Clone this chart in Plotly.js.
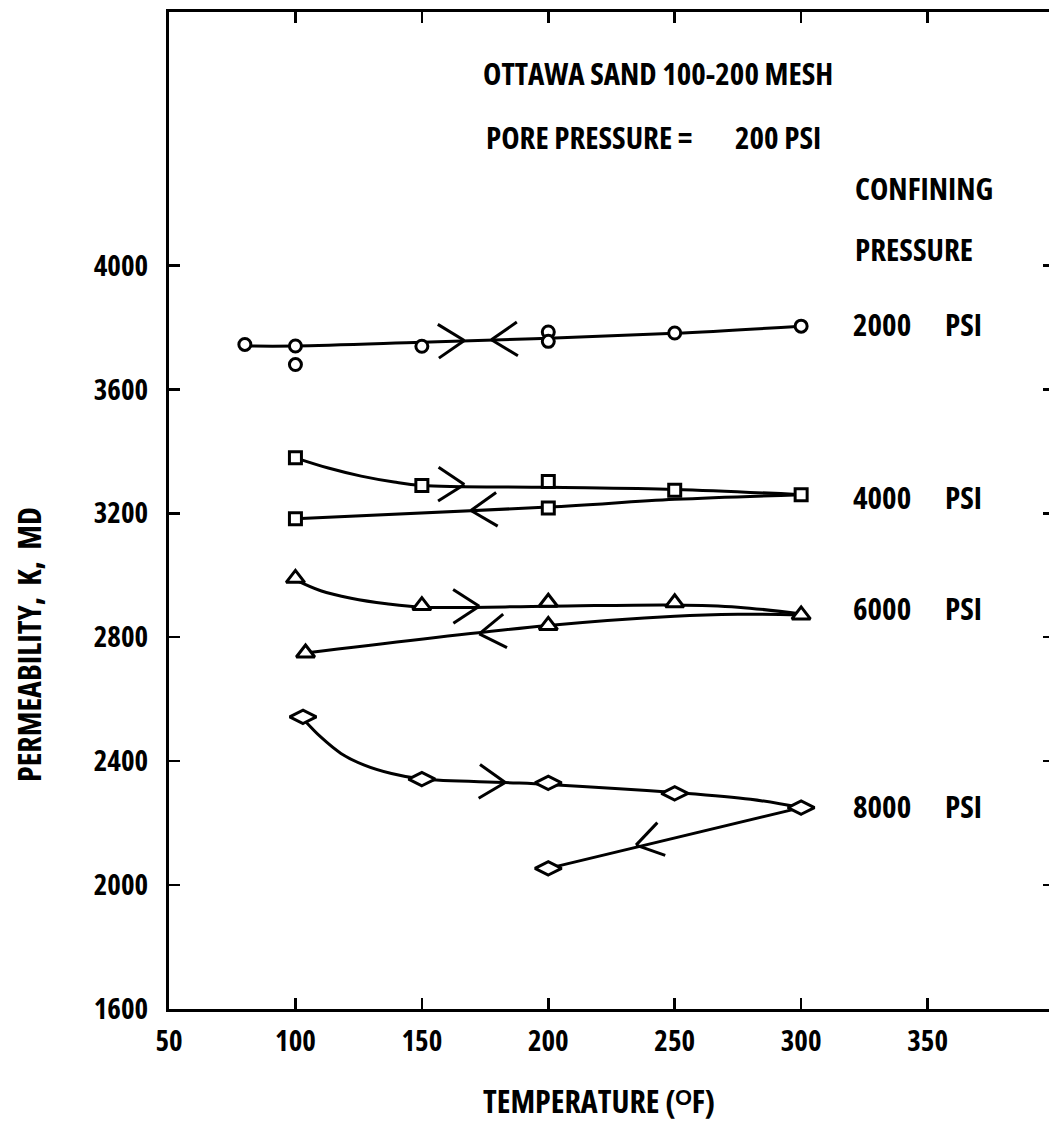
<!DOCTYPE html>
<html><head><meta charset="utf-8">
<script src="https://cdn.plot.ly/plotly-3.0.1.min.js"></script>
<style>
html,body{margin:0;padding:0;background:#fff;overflow:hidden}
svg text{font-stretch:condensed !important;}
</style>
</head><body><div id="chart"></div>
<script>
// ---------------- data ----------------
// 2000 PSI confining pressure (circles)
const p2000_x = [80, 100, 100, 150, 200, 200, 250, 300];
const p2000_y = [3745, 3740, 3680, 3739, 3785, 3755, 3782, 3804];
const p2000_line_x = [80, 100, 150, 200, 250, 300];
const p2000_line_y = [3740, 3740, 3752, 3765, 3781, 3804];

// 4000 PSI (squares)
const p4000_heat_x = [100, 150, 200, 250, 300];
const p4000_heat_y = [3379, 3290, 3303, 3274, 3260];
const p4000_cool_x = [200, 100];
const p4000_cool_y = [3217, 3182];
const p4000_heat_line_x = [100, 113, 126, 139, 150, 200, 250, 300];
const p4000_heat_line_y = [3379, 3346, 3320, 3301, 3290, 3284, 3277, 3260];
const p4000_cool_line_x = [300, 250, 200, 100];
const p4000_cool_line_y = [3260, 3245, 3220, 3182];

// 6000 PSI (triangles)
const p6000_heat_x = [100, 150, 200, 250, 300];
const p6000_heat_y = [2990, 2902, 2913, 2911, 2872];
const p6000_cool_x = [200, 104];
const p6000_cool_y = [2838, 2749];
const p6000_heat_line_x = [100, 110, 122, 136, 150, 200, 250, 275, 300];
const p6000_heat_line_y = [2985, 2950, 2926, 2908, 2897, 2900, 2904, 2897, 2875];
const p6000_cool_line_x = [300, 275, 250, 200, 104];
const p6000_cool_line_y = [2872, 2874, 2868, 2838, 2749];

// 8000 PSI (diamonds)
const p8000_heat_x = [103, 150, 200, 250, 300];
const p8000_heat_y = [2543, 2342, 2330, 2296, 2250];
const p8000_cool_x = [200];
const p8000_cool_y = [2054];
const p8000_heat_line_x = [104, 110, 118, 127, 138, 150, 183, 200, 250, 280, 300];
const p8000_heat_line_y = [2528, 2478, 2425, 2388, 2360, 2342, 2331, 2325, 2299, 2277, 2250];
const p8000_cool_line_x = [300, 200];
const p8000_cool_line_y = [2250, 2054];

// direction arrows (vertex position, +1 = heating / right, -1 = cooling / left)
const arrow_x = [166.8, 177.5, 166.8, 169.4, 172.7, 172.7, 183, 234.7];
const arrow_y = [3758, 3760, 3293, 3209, 2900, 2811, 2331, 2129];
const arrow_dir = [1, -1, 1, -1, 1, -1, 1, -1];

// tick labels
const x_ticks = [50, 100, 150, 200, 250, 300, 350];
const y_ticks = [1600, 2000, 2400, 2800, 3200, 3600, 4000];

// text
const note_lines = ['OTTAWA SAND 100-200 MESH', 'PORE PRESSURE =', '200 PSI', 'CONFINING', 'PRESSURE'];
const series_values = ['2000', '4000', '6000', '8000'];
const series_unit = 'PSI';
const x_title = 'TEMPERATURE (\u1D3CF)';
const y_title = 'PERMEABILITY,\u00a0 K,\u00a0 MD';

// ---------------- layout constants ----------------
const W = 1060, H = 1121;
const L = 169, R = W - 169 - 885, T = 12, B = H - 1009;
const XR = [50, 400], YR = [1600, 4818];
const plotW = W - L - R, plotH = H - T - B;
const kx = plotW / (XR[1] - XR[0]);
const ky = plotH / (YR[1] - YR[0]);
const px = v => (v - L) / plotW;
const py = v => (H - B - v) / plotH;

const FONT = 'Open Sans, Roboto Condensed, sans-serif';
const BLACK = '#000';

function lineTrace(x, y) {
  return {x, y, mode: 'lines', type: 'scatter', hoverinfo: 'skip', showlegend: false,
    line: {color: BLACK, width: 3, shape: 'spline', smoothing: 1}};
}
function markTrace(x, y, symbol, size) {
  return {x, y, mode: 'markers', type: 'scatter', showlegend: false,
    marker: {symbol, size, color: '#fff', line: {color: BLACK, width: 3}}};
}

const lines = [
  [p2000_line_x, p2000_line_y],
  [p4000_heat_line_x, p4000_heat_line_y], [p4000_cool_line_x, p4000_cool_line_y],
  [p6000_heat_line_x, p6000_heat_line_y], [p6000_cool_line_x, p6000_cool_line_y],
  [p8000_heat_line_x, p8000_heat_line_y], [p8000_cool_line_x, p8000_cool_line_y]
];
const arrow_line = [0, 0, 1, 2, 3, 4, 5, 6];

const data = lines.map(l => lineTrace(l[0], l[1])).concat([
  markTrace(p2000_x, p2000_y, 'circle', 12),
  markTrace(p4000_heat_x, p4000_heat_y, 'square', 12),
  markTrace(p4000_cool_x, p4000_cool_y, 'square', 12),
  markTrace(p6000_heat_x, p6000_heat_y, 'triangle-up', 16),
  markTrace(p6000_cool_x, p6000_cool_y, 'triangle-up', 16),
  markTrace(p8000_heat_x, p8000_heat_y, 'diamond-wide', 19),
  markTrace(p8000_cool_x, p8000_cool_y, 'diamond-wide', 19)
]);

// arrows as chevrons (pixel-sized line shapes anchored at data points)
const shapes = [];
const ARM = 31, HALF = 33 * Math.PI / 180;
arrow_x.forEach((ax, i) => {
  const ay = arrow_y[i];
  const [lx, ly] = lines[arrow_line[i]];
  let slope = 0;
  for (let j = 0; j < lx.length - 1; j++) {
    const a = Math.min(lx[j], lx[j + 1]), b = Math.max(lx[j], lx[j + 1]);
    if (ax >= a && ax <= b) { slope = ((ly[j + 1] - ly[j]) * ky) / ((lx[j + 1] - lx[j]) * kx); break; }
  }
  const dir = arrow_dir[i];
  const theta = Math.atan2(dir * slope, dir);
  const back = theta + Math.PI;
  [back + HALF, back - HALF].forEach(a => {
    shapes.push({type: 'line', xref: 'x', yref: 'y', xsizemode: 'pixel', ysizemode: 'pixel',
      xanchor: ax, yanchor: ay, x0: 0, y0: 0, x1: ARM * Math.cos(a), y1: ARM * Math.sin(a),
      line: {color: BLACK, width: 3}});
  });
});

const tf = {family: FONT, size: 29, color: BLACK, weight: 'bold'};
const af = {family: FONT, size: 31, color: BLACK, weight: 'bold'};
const ann = (text, x, y, extra) => Object.assign({text, xref: 'paper', yref: 'paper', x: px(x), y: py(y),
  xanchor: 'left', yanchor: 'middle', showarrow: false, font: af}, extra || {});

const label_y = [324, 497, 608, 806];
const annotations = [
  ann(note_lines[0], 481, 73),
  ann(note_lines[1], 484, 137),
  ann(note_lines[2], 733, 137),
  ann(note_lines[3], 853, 188),
  ann(note_lines[4], 853, 249)
].concat(series_values.map((s, i) => ann(s, 851, label_y[i])))
 .concat(series_values.map((s, i) => ann(series_unit, 943, label_y[i])))
 .concat([
  ann(x_title, 599, 1100, {xanchor: 'center', font: Object.assign({}, af, {size: 32})}),
  ann(y_title, 28, 645, {xanchor: 'center', textangle: -90, font: Object.assign({}, af, {size: 32})})
]);

const axisBase = {showline: true, linewidth: 3, linecolor: BLACK, mirror: 'ticks',
  ticks: 'inside', ticklen: 11, tickwidth: 2.5, tickcolor: BLACK,
  showgrid: false, zeroline: false, tickfont: tf, fixedrange: true};

const layout = {
  width: W, height: H,
  margin: {l: L, r: R, t: T, b: B},
  paper_bgcolor: '#fff', plot_bgcolor: '#fff',
  showlegend: false,
  xaxis: Object.assign({}, axisBase, {range: XR, tickmode: 'array', tickvals: x_ticks,
    ticktext: x_ticks.map(String), ticklabelstandoff: 4}),
  yaxis: Object.assign({}, axisBase, {range: YR, tickmode: 'array', tickvals: y_ticks,
    ticktext: y_ticks.map(String), ticklabelstandoff: 12}),
  shapes, annotations
};

Plotly.newPlot('chart', data, layout, {displayModeBar: false, staticPlot: true});
</script>
</body></html>
